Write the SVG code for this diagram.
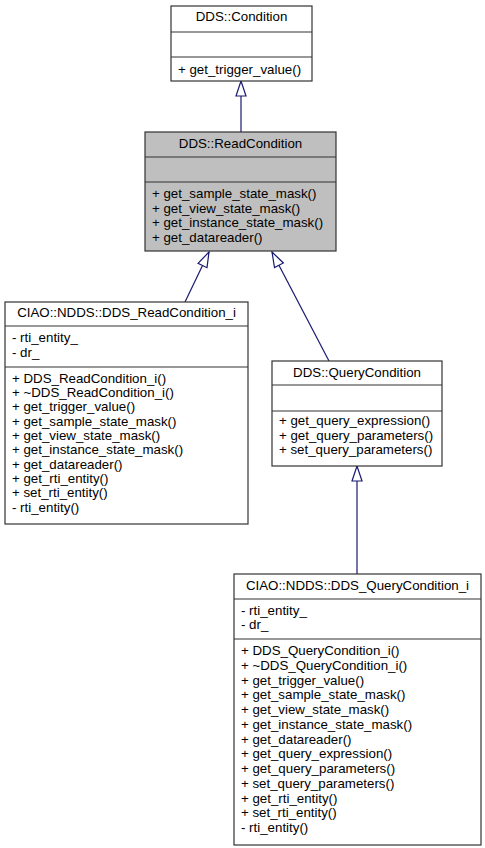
<svg xmlns="http://www.w3.org/2000/svg" width="485" height="848" viewBox="0 0 485 848">
<style>
.box{fill:#ffffff;stroke:#333333;stroke-width:1.2}
.gray{fill:#bfbfbf}
.sep{stroke:#333333;stroke-width:1.2}
text{font-family:"Liberation Sans",Arial,sans-serif;font-size:13.3px;fill:#000000}
.t{text-anchor:middle}
.edge{fill:none;stroke:#191970;stroke-width:1.2}
</style>
<defs>
<marker id="tri" markerUnits="userSpaceOnUse" markerWidth="17" markerHeight="12" refX="15" refY="5.5" orient="auto" viewBox="-1 -0.5 17 12">
<path d="M0,0.5 L15,5.5 L0,10.5 z" fill="#ffffff" stroke="#191970" stroke-width="1.2"/>
</marker>
</defs>
<g id="edges">
<path class="edge" d="M241,132 L241,81" marker-end="url(#tri)"/>
<path class="edge" d="M185,302 L209,252" marker-end="url(#tri)"/>
<path class="edge" d="M329,361 L272,252" marker-end="url(#tri)"/>
<path class="edge" d="M357,574 L357,466" marker-end="url(#tri)"/>
</g>
<g id="Condition">
<rect class="box" x="171" y="6" width="141" height="75"/>
<line class="sep" x1="171" y1="32" x2="312" y2="32"/>
<line class="sep" x1="171" y1="57" x2="312" y2="57"/>
<text class="t" x="241.5" y="21">DDS::Condition</text>
<text x="178" y="74">+ get_trigger_value()</text>
</g>
<g id="ReadCondition">
<rect class="box gray" x="145" y="132" width="191" height="119"/>
<line class="sep" x1="145" y1="157" x2="336" y2="157"/>
<line class="sep" x1="145" y1="182" x2="336" y2="182"/>
<text class="t" x="240.5" y="148">DDS::ReadCondition</text>
<text x="152" y="198">+ get_sample_state_mask()</text>
<text x="152" y="212.7">+ get_view_state_mask()</text>
<text x="152" y="227.4">+ get_instance_state_mask()</text>
<text x="152" y="242.1">+ get_datareader()</text>
</g>
<g id="DDS_ReadCondition_i">
<rect class="box" x="5" y="302" width="243" height="222"/>
<line class="sep" x1="5" y1="326" x2="248" y2="326"/>
<line class="sep" x1="5" y1="367" x2="248" y2="367"/>
<text class="t" x="126.5" y="317">CIAO::NDDS::DDS_ReadCondition_i</text>
<text x="12" y="342">- rti_entity_</text>
<text x="12" y="356.5">- dr_</text>
<text x="12" y="382.5">+ DDS_ReadCondition_i()</text>
<text x="12" y="396.85">+ ~DDS_ReadCondition_i()</text>
<text x="12" y="411.2">+ get_trigger_value()</text>
<text x="12" y="425.55">+ get_sample_state_mask()</text>
<text x="12" y="439.9">+ get_view_state_mask()</text>
<text x="12" y="454.25">+ get_instance_state_mask()</text>
<text x="12" y="468.6">+ get_datareader()</text>
<text x="12" y="482.95">+ get_rti_entity()</text>
<text x="12" y="497.3">+ set_rti_entity()</text>
<text x="12" y="511.65">- rti_entity()</text>
</g>
<g id="QueryCondition">
<rect class="box" x="272" y="361" width="170" height="105"/>
<line class="sep" x1="272" y1="385" x2="442" y2="385"/>
<line class="sep" x1="272" y1="411" x2="442" y2="411"/>
<text class="t" x="357" y="377">DDS::QueryCondition</text>
<text x="279" y="425">+ get_query_expression()</text>
<text x="279" y="439.7">+ get_query_parameters()</text>
<text x="279" y="454.4">+ set_query_parameters()</text>
</g>
<g id="DDS_QueryCondition_i">
<rect class="box" x="234" y="574" width="247" height="271"/>
<line class="sep" x1="234" y1="599" x2="481" y2="599"/>
<line class="sep" x1="234" y1="639" x2="481" y2="639"/>
<text class="t" x="357.5" y="590">CIAO::NDDS::DDS_QueryCondition_i</text>
<text x="241" y="614.5">- rti_entity_</text>
<text x="241" y="629">- dr_</text>
<text x="241" y="655">+ DDS_QueryCondition_i()</text>
<text x="241" y="669.75">+ ~DDS_QueryCondition_i()</text>
<text x="241" y="684.5">+ get_trigger_value()</text>
<text x="241" y="699.25">+ get_sample_state_mask()</text>
<text x="241" y="714">+ get_view_state_mask()</text>
<text x="241" y="728.75">+ get_instance_state_mask()</text>
<text x="241" y="743.5">+ get_datareader()</text>
<text x="241" y="758.25">+ get_query_expression()</text>
<text x="241" y="773">+ get_query_parameters()</text>
<text x="241" y="787.75">+ set_query_parameters()</text>
<text x="241" y="802.5">+ get_rti_entity()</text>
<text x="241" y="817.25">+ set_rti_entity()</text>
<text x="241" y="832">- rti_entity()</text>
</g>
</svg>
